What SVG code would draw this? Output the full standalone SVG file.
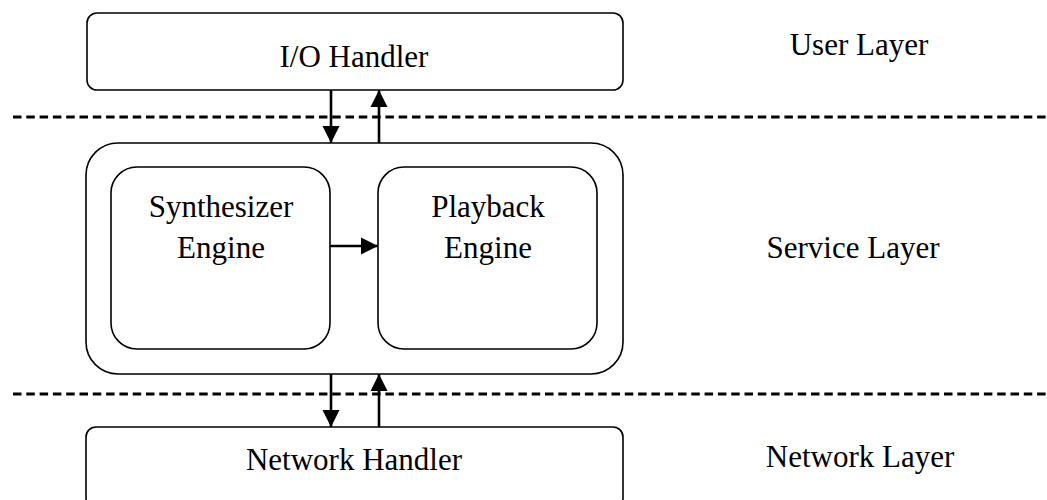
<svg xmlns="http://www.w3.org/2000/svg" width="1047" height="500" viewBox="0 0 1047 500">
  <style>
    .box { fill: #ffffff; stroke: #000000; stroke-width: 1.6; }
    .label { font-family: "Liberation Serif", "Times New Roman", serif; font-size: 31px; fill: #000000; text-anchor: middle; }
    .divider { stroke: #000000; stroke-width: 3; stroke-dasharray: 8.5 4.8; fill: none; }
    .flow { stroke: #000000; stroke-width: 2.6; fill: none; marker-end: url(#head); }
  </style>
  <defs>
    <marker id="head" viewBox="0 0 10 10" refX="10" refY="5" markerWidth="6.6" markerHeight="6.6" markerUnits="strokeWidth" orient="auto">
      <path d="M0,0 L10,5 L0,10 Z" fill="#000000"/>
    </marker>
  </defs>

  <rect width="1047" height="500" fill="#ffffff"/>

  <!-- layer dividers -->
  <g id="dividers">
    <line class="divider" x1="13" y1="117" x2="1047" y2="117"/>
    <line class="divider" x1="13" y1="394" x2="1047" y2="394"/>
  </g>

  <!-- layer names -->
  <g id="layer-labels">
    <text class="label" x="859" y="55">User Layer</text>
    <text class="label" x="853" y="258">Service Layer</text>
    <text class="label" x="860" y="467">Network Layer</text>
  </g>

  <g id="io-handler">
    <rect class="box" x="87" y="13" width="536" height="77" rx="10" ry="10"/>
    <text class="label" x="354" y="67">I/O Handler</text>
  </g>

  <g id="service-container">
    <rect class="box" x="86" y="143" width="537" height="231" rx="32" ry="32"/>
  </g>

  <g id="synthesizer-engine">
    <rect class="box" x="111" y="167" width="219" height="182" rx="26" ry="26"/>
    <text class="label" x="221" y="217">Synthesizer</text>
    <text class="label" x="221" y="258">Engine</text>
  </g>

  <g id="playback-engine">
    <rect class="box" x="378" y="167" width="219" height="182" rx="26" ry="26"/>
    <text class="label" x="488" y="217">Playback</text>
    <text class="label" x="488" y="258">Engine</text>
  </g>

  <g id="network-handler">
    <rect class="box" x="86" y="427" width="537" height="81" rx="10" ry="10"/>
    <text class="label" x="354" y="470">Network Handler</text>
  </g>

  <!-- connectors -->
  <g id="connectors">
    <line class="flow" x1="331" y1="90" x2="331" y2="143"/>
    <line class="flow" x1="379" y1="143" x2="379" y2="90"/>
    <line class="flow" x1="330" y1="246" x2="378" y2="246"/>
    <line class="flow" x1="331" y1="374" x2="331" y2="427"/>
    <line class="flow" x1="379" y1="427" x2="379" y2="374"/>
  </g>
</svg>
